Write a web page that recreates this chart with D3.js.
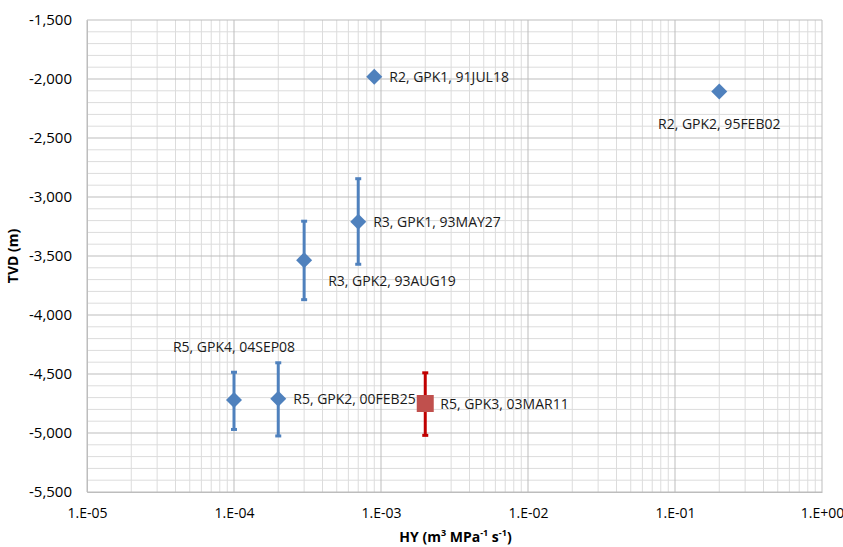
<!DOCTYPE html>
<html>
<head>
<meta charset="utf-8">
<script src="https://cdn.jsdelivr.net/npm/d3@7"></script>
<style>
  body { margin: 0; background: #fff; }
  text { font-family: "Open Sans", Lato, sans-serif; }
</style>
</head>
<body>
<svg id="chart" width="843" height="547"></svg>
<script>
// data
var labels = ["R2, GPK1, 91JUL18", "R2, GPK2, 95FEB02", "R3, GPK1, 93MAY27", "R3, GPK2, 93AUG19",
              "R5, GPK4, 04SEP08", "R5, GPK2, 00FEB25", "R5, GPK3, 03MAR11"];
var hy = [9e-4, 0.2, 7e-4, 3e-4, 1e-4, 2e-4, 2e-3];
var tvd = [-1980, -2105, -3210, -3535, -4720, -4710, -4750];
var errTop = [null, null, -2845, -3205, -4485, -4405, -4490];
var errBottom = [null, null, -3570, -3870, -4970, -5025, -5020];
var labelPos = ["right", "below", "right", "belowRight", "above", "right", "right"];
var series = ["a", "a", "a", "a", "a", "a", "b"];
var xTicks = [1e-5, 1e-4, 1e-3, 1e-2, 1e-1, 1];
var xTickLabels = ["1.E-05", "1.E-04", "1.E-03", "1.E-02", "1.E-01", "1.E+00"];
var yTicks = [-1500, -2000, -2500, -3000, -3500, -4000, -4500, -5000, -5500];

var margins = {top: 20, right: 21, bottom: 55, left: 87};
var svg = d3.select("#chart");
var width = +svg.attr("width") - margins.left - margins.right,
    height = +svg.attr("height") - margins.top - margins.bottom;

var x = d3.scaleLog().domain([1e-5, 1]).range([0, width]),
    y = d3.scaleLinear().domain([-5500, -1500]).range([height, 0]);

var g = svg.append("g")
    .attr("transform", "translate(" + margins.left + "," + margins.top + ")");

// minor grid
var minorX = [];
for (var e = -5; e < 0; e++) {
  for (var m = 2; m < 10; m++) minorX.push(m * Math.pow(10, e));
}
g.selectAll(".gx-minor").data(minorX).enter().append("line")
    .attr("x1", function(d) { return x(d); }).attr("x2", function(d) { return x(d); })
    .attr("y1", 0).attr("y2", height)
    .attr("stroke", "#dcdcdc").attr("stroke-width", 1);

var minorY = d3.range(-5500, -1500, 100).filter(function(d) { return d % 500 !== 0; });
g.selectAll(".gy-minor").data(minorY).enter().append("line")
    .attr("x1", 0).attr("x2", width)
    .attr("y1", function(d) { return y(d); }).attr("y2", function(d) { return y(d); })
    .attr("stroke", "#dcdcdc").attr("stroke-width", 1);

// major grid
g.selectAll(".gx-major").data(xTicks).enter().append("line")
    .attr("x1", function(d) { return x(d); }).attr("x2", function(d) { return x(d); })
    .attr("y1", 0).attr("y2", height)
    .attr("stroke", "#bdbdbd").attr("stroke-width", 1);

g.selectAll(".gy-major").data(yTicks).enter().append("line")
    .attr("x1", 0).attr("x2", width)
    .attr("y1", function(d) { return y(d); }).attr("y2", function(d) { return y(d); })
    .attr("stroke", "#bdbdbd").attr("stroke-width", 1);

// axes
var xAxis = g.append("g")
    .attr("transform", "translate(0," + height + ")")
    .call(d3.axisBottom(x).tickValues(xTicks).tickSize(0).tickPadding(16)
      .tickFormat(function(d, i) { return xTickLabels[i]; }));
var yAxis = g.append("g")
    .call(d3.axisLeft(y).tickValues(yTicks).tickSize(0).tickPadding(15)
      .tickFormat(function(d) { return d3.format(",")(d).replace("\u2212", "-"); }));
[xAxis, yAxis].forEach(function(a) {
  a.select(".domain").attr("stroke", "#bdbdbd");
  a.selectAll("text").attr("fill", "#000");
});
xAxis.selectAll("text").attr("font-size", 14);
yAxis.selectAll("text").attr("font-size", 15);

g.append("text")
    .attr("x", width / 2 + 1).attr("y", height + 50)
    .attr("text-anchor", "middle").attr("font-size", 14).attr("font-weight", "bold")
    .html('HY (m<tspan baseline-shift="super" font-size="9">3</tspan> MPa<tspan baseline-shift="super" font-size="9">-1</tspan> s<tspan baseline-shift="super" font-size="9">-1</tspan>)');

g.append("text")
    .attr("transform", "rotate(-90)")
    .attr("x", -height / 2).attr("y", -69)
    .attr("text-anchor", "middle").attr("font-size", 14).attr("font-weight", "bold")
    .text("TVD (m)");

// points
var idx = d3.range(labels.length);
var colors = {a: "#4f81bd", b: "#c0504d"};
var barColors = {a: "#4f81bd", b: "#c00000"};

var bars = idx.filter(function(i) { return errTop[i] !== null; });
bars.forEach(function(i) {
  var c = barColors[series[i]];
  var cx = x(hy[i]);
  g.append("line").attr("x1", cx).attr("x2", cx)
      .attr("y1", y(errTop[i])).attr("y2", y(errBottom[i]))
      .attr("stroke", c).attr("stroke-width", 3);
  [errTop[i], errBottom[i]].forEach(function(v) {
    g.append("line").attr("x1", cx - 3).attr("x2", cx + 3)
        .attr("y1", y(v)).attr("y2", y(v))
        .attr("stroke", c).attr("stroke-width", 3);
  });
});

g.selectAll(".pt").data(idx).enter().append("path")
    .attr("transform", function(i) { return "translate(" + x(hy[i]) + "," + y(tvd[i]) + ")"; })
    .attr("d", function(i) {
      return series[i] === "a" ? "M0,-8L8,0L0,8L-8,0Z" : "M-8.5,-8.5H8.5V8.5H-8.5Z";
    })
    .attr("fill", function(i) { return colors[series[i]]; });

g.selectAll(".lbl").data(idx).enter().append("text")
    .attr("font-size", 14).attr("fill", "#1a1a1a")
    .attr("x", function(i) {
      var p = labelPos[i], cx = x(hy[i]);
      if (p === "right") return cx + 15;
      if (p === "belowRight") return cx + 24;
      return cx;
    })
    .attr("y", function(i) {
      var p = labelPos[i], cy = y(tvd[i]);
      if (p === "below") return cy + 38;
      if (p === "belowRight") return cy + 26;
      if (p === "above") return cy - 48;
      return cy + 5;
    })
    .attr("text-anchor", function(i) {
      var p = labelPos[i];
      return (p === "below" || p === "above") ? "middle" : "start";
    })
    .text(function(i) { return labels[i]; });
</script>
</body>
</html>
